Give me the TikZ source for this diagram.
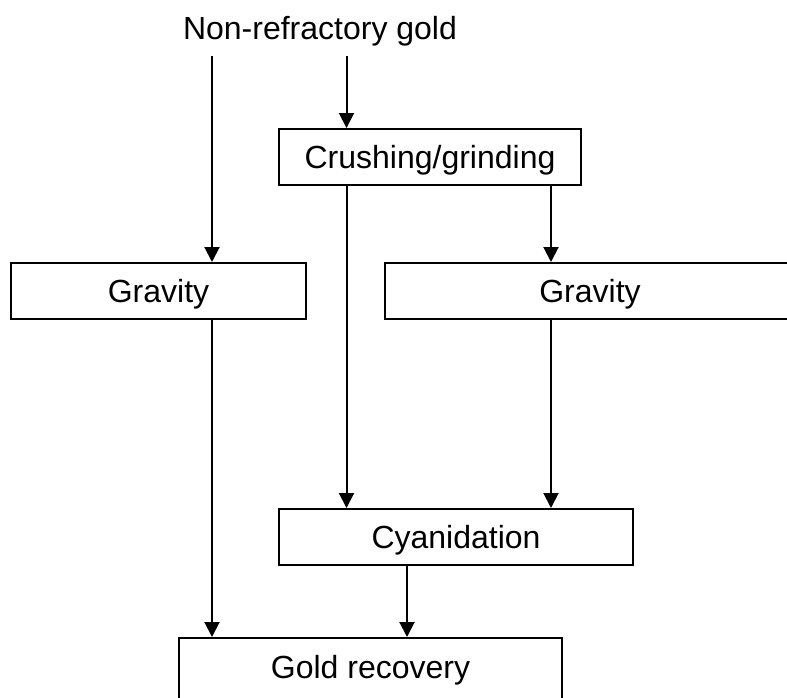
\documentclass[tikz,border=0pt]{standalone}
\usepackage{fontspec}
\setmainfont{Liberation Sans}
\usetikzlibrary{arrows.meta}

\tikzset{
  stage/.style={draw,line width=1pt,minimum height=28pt,inner sep=0pt,
    text height=11.5pt,text depth=0pt,font=\fontsize{16}{19}\selectfont},
  flow/.style={line width=1pt,-{Triangle[length=7.5pt,width=7.5pt]}}
}

\begin{document}
\begin{tikzpicture}[x=0.5pt,y=-0.5pt,line join=miter]
  \useasboundingbox (0,0) rectangle (787,697);

  \node[inner sep=0pt,text height=11.5pt,text depth=0pt,
    font=\fontsize{16}{19}\selectfont] (feed) at (320,28) {Non-refractory gold};
  \coordinate (dropL) at (212,56);
  \coordinate (dropC) at (346.5,56);
  \coordinate (colR) at (551,0);
  \coordinate (colM) at (407,0);

  \node[stage,minimum width=151pt] (crush) at (430,157) {Crushing/grinding};
  \node[stage,minimum width=147.5pt] (gravL) at (158.5,291) {Gravity};
  \node[stage,minimum width=205pt] (gravR) at (590,291) {Gravity};
  \node[stage,minimum width=177pt] (cyan) at (456,537) {Cyanidation};
  \node[stage,minimum width=191.5pt,minimum height=0pt,anchor=north,
    text height=20.25pt,text depth=15pt] (recov) at (370.5,637) {Gold recovery};

  \draw[flow] (dropL) -- (dropL |- gravL.north);
  \draw[flow] (dropC) -- (dropC |- crush.north);
  \draw[flow] (crush.south -| dropC) -- (dropC |- cyan.north);
  \draw[flow] (crush.south -| colR) -- (colR |- gravR.north);
  \draw[flow] (gravR.south -| colR) -- (colR |- cyan.north);
  \draw[flow] (gravL.south -| dropL) -- (dropL |- recov.north);
  \draw[flow] (cyan.south -| colM) -- (colM |- recov.north);
\end{tikzpicture}
\end{document}
